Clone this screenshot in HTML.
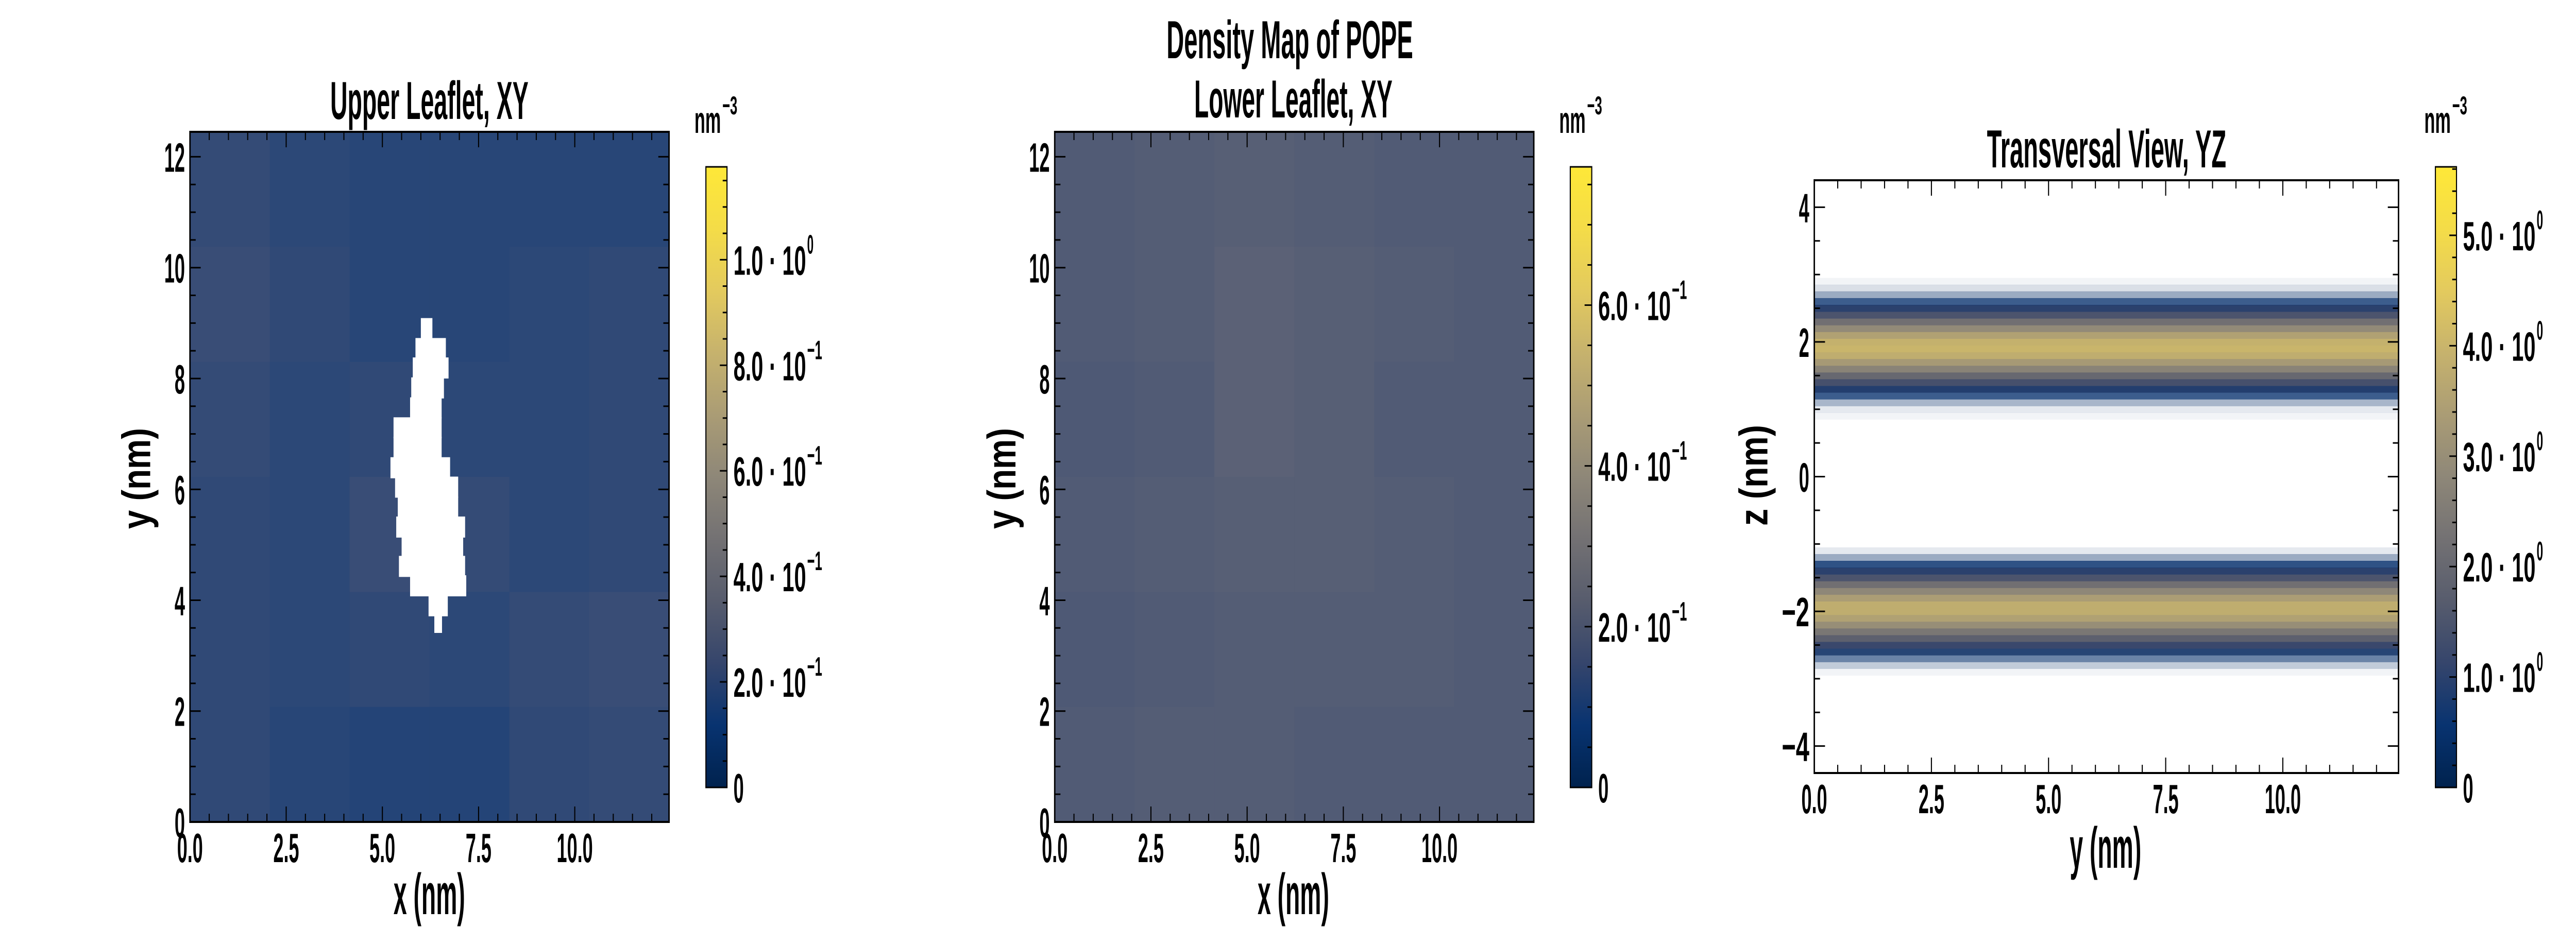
<!DOCTYPE html>
<html><head><meta charset="utf-8"><meta name="viewport" content="width=7200, initial-scale=1">
<title>Density Map of POPE</title>
<style>
html,body{margin:0;padding:0;background:#fff;width:100%;height:100%;overflow:hidden;}
svg{display:block;position:fixed;left:0;top:0;width:100vw;height:100vh;}
text{font-family:"Liberation Sans Narrow","Liberation Sans",sans-serif;font-weight:bold;fill:#000;}
</style></head>
<body>
<svg id="fig" xmlns="http://www.w3.org/2000/svg" viewBox="0 0 7200 1800" preserveAspectRatio="none">
<defs id="defs"></defs>
<rect x="0" y="0" width="7200" height="1800" fill="#fff"/>
<g id="root"></g>
</svg>
<script>
// ---------------- data ----------------
// Upper leaflet coarse density grid (normalized to colorbar max), rows top->bottom
const upperGrid = [
  [0.17,0.15,0.14,0.14,0.14,0.14],
  [0.18,0.16,0.14,0.14,0.15,0.16],
  [0.17,0.15,0.16,0.15,0.15,0.16],
  [0.16,0.15,0.18,0.17,0.15,0.16],
  [0.16,0.15,0.16,0.15,0.17,0.18],
  [0.16,0.14,0.13,0.13,0.16,0.17]
];
// Lower leaflet coarse density grid
const lowerGrid = [
  [0.25,0.26,0.27,0.26,0.25,0.25],
  [0.25,0.26,0.28,0.27,0.26,0.25],
  [0.24,0.25,0.28,0.27,0.25,0.25],
  [0.25,0.26,0.27,0.27,0.26,0.25],
  [0.24,0.25,0.26,0.26,0.26,0.25],
  [0.25,0.26,0.26,0.25,0.25,0.25]
];
// Empty hole in upper leaflet: per y row (nm), x extent (nm)
const holeY  = [8.9, 8.54, 8.19, 7.83, 7.47, 7.11, 6.76, 6.39, 6.04, 5.68, 5.32, 4.96, 4.61, 4.26, 3.9, 3.6];
const holeX0 = [6.0, 5.86, 5.79, 5.75, 5.72, 5.29, 5.29, 5.21, 5.33, 5.40, 5.36, 5.50, 5.43, 5.72, 6.2, 6.35];
const holeX1 = [6.3, 6.65, 6.72, 6.60, 6.54, 6.54, 6.54, 6.76, 6.97, 6.97, 7.15, 7.10, 7.15, 7.18, 6.7, 6.55];
// Transversal (YZ) profile: z centers (nm), density (nm^-3), occupancy fraction
const bandZ   = [-2.9,-2.8,-2.7,-2.6,-2.5,-2.4,-2.3,-2.2,-2.1,-2.0,-1.9,-1.8,-1.7,-1.6,-1.5,-1.4,-1.3,-1.2,-1.1, 0.9,1.0,1.1,1.2,1.3,1.4,1.5,1.6,1.7,1.8,1.9,2.0,2.1,2.2,2.3,2.4,2.5,2.6,2.7,2.8,2.9];
const bandVal = [0.3,0.4,0.5,0.8,1.2,1.8,2.4,3.0,3.5,3.8,3.8,3.4,2.8,2.2,1.5,1.0,0.6,0.4,0.3, 0.3,0.3,0.4,0.6,0.9,1.4,2.0,2.7,3.3,3.8,4.0,3.9,3.5,2.9,2.2,1.5,1.0,0.6,0.4,0.3,0.3];
const bandOcc = [0.05,0.25,0.6,0.95,1,1,1,1,1,1,1,1,1,1,1,1,0.85,0.4,0.1, 0.05,0.1,0.35,0.8,1,1,1,1,1,1,1,1,1,1,1,1,1,0.8,0.4,0.15,0.05];
// Axis ticks
const xyXTicks = [0, 2.5, 5, 7.5, 10];
const xyXLabels = ["0.0","2.5","5.0","7.5","10.0"];
const xyYTicks = [0, 2, 4, 6, 8, 10, 12];
const xyYLabels = ["0","2","4","6","8","10","12"];
const zTicks = [-4, -2, 0, 2, 4];
const zLabels = ["\u22124","\u22122","0","2","4"];
// Colorbars
const cb1Ticks = [0, 0.2, 0.4, 0.6, 0.8, 1.0];
const cb1Labels = ["0","2.0 \u00b7 10","4.0 \u00b7 10","6.0 \u00b7 10","8.0 \u00b7 10","1.0 \u00b7 10"];
const cb1Exp = ["","\u22121","\u22121","\u22121","\u22121","0"];
const cb2Ticks = [0, 0.2, 0.4, 0.6];
const cb2Labels = ["0","2.0 \u00b7 10","4.0 \u00b7 10","6.0 \u00b7 10"];
const cb2Exp = ["","\u22121","\u22121","\u22121"];
const cb3Ticks = [0, 1, 2, 3, 4, 5];
const cb3Labels = ["0","1.0 \u00b7 10","2.0 \u00b7 10","3.0 \u00b7 10","4.0 \u00b7 10","5.0 \u00b7 10"];
const cb3Exp = ["","0","0","0","0","0"];

// ---------------- helpers ----------------
const NS = "http://www.w3.org/2000/svg";
const root = document.getElementById("root");
const defs = document.getElementById("defs");
const cmapStops = [[0,"#00224e"],[0.1,"#083370"],[0.2,"#35456c"],[0.3,"#575c6d"],[0.4,"#737173"],[0.5,"#8e8778"],[0.6,"#aa9c75"],[0.7,"#c6b26d"],[0.8,"#e3ca5e"],[0.9,"#f4dc48"],[1,"#fee838"]];
function hex(h){return [parseInt(h.substr(1,2),16),parseInt(h.substr(3,2),16),parseInt(h.substr(5,2),16)];}
function cmap(t, white){
  t=Math.max(0,Math.min(1,t));
  let i=0; while(i<cmapStops.length-2 && t>cmapStops[i+1][0]) i++;
  const a=cmapStops[i], b=cmapStops[i+1];
  const f=(t-a[0])/(b[0]-a[0]);
  const ca=hex(a[1]), cb=hex(b[1]);
  let c=ca.map((v,k)=>v+(cb[k]-v)*f);
  if(white){c=c.map(v=>v+(255-v)*white);}
  return "rgb("+c.map(v=>Math.round(v)).join(",")+")";
}
function mk(tag, attrs, parent){
  const e=document.createElementNS(NS,tag);
  for(const k in attrs) e.setAttribute(k, attrs[k]);
  (parent||root).appendChild(e);
  return e;
}
function textW(s, scale){
  let w=0;
  for(const ch of s){
    if(/[0-9]/.test(ch)) w+=29;
    else if(ch===".") w+=14;
    else if(ch===" ") w+=14;
    else if(ch==="\u00b7") w+=45;
    else if(ch==="\u2212") w+=48;
    else w+=29;
  }
  return w*(scale||1);
}
function label(x,y,str,anchor,size,len,name,rot){
  const t=mk("text",{x:x,y:y,"font-size":size,"text-anchor":anchor||"start"});
  if(len){t.setAttribute("textLength",len);t.setAttribute("lengthAdjust","spacingAndGlyphs");}
  if(rot) t.setAttribute("transform","rotate("+rot+" "+x+" "+y+")");
  t.textContent=str;
  
  
  return t;
}
function line(x1,y1,x2,y2,w,name){
  const l=mk("line",{x1:x1,y1:y1,x2:x2,y2:y2,stroke:"#000","stroke-width":w});
  
  
  return l;
}
function scale(d0,d1,r0,r1){return v=>r0+(v-d0)/(d1-d0)*(r1-r0);}

// ---------------- panels ----------------
function xyPanel(px0,px1,py0,py1,grid,white,vmax,hole,pname){
  const sx=scale(0,12.45,px0,px1), sy=scale(0,12.45,py1,py0);
  const n=grid.length, step=12.45/n;
  for(let r=0;r<n;r++){
    for(let c=0;c<grid[r].length;c++){
      const x0=sx(c*step), x1=sx((c+1)*step);
      const yTop=sy(12.45-r*step), yBot=sy(12.45-(r+1)*step);
      const rc=mk("rect",{x:x0,y:yTop,width:x1-x0+0.5,height:yBot-yTop+0.5,fill:cmap(grid[r][c],white)});
      
      
    }
  }
  if(hole){
    for(let i=0;i<holeY.length;i++){
      const hy=holeY[i];
      const h=mk("rect",{x:sx(holeX0[i]),y:sy(hy+0.19),width:sx(holeX1[i])-sx(holeX0[i]),height:sy(hy-0.19)-sy(hy+0.19),fill:"#fff"});
      
      
    }
  }
  frameAndTicks(px0,px1,py0,py1,sx,sy,xyXTicks,xyXLabels,0.5,12.45,xyYTicks,xyYLabels,0.5,0,12.45,pname);
}
function frameAndTicks(px0,px1,py0,py1,sx,sy,xt,xl,xminor,xmax,yt,yl,yminor,ymin,ymax,pname){
  const fr=mk("rect",{x:px0,y:py0,width:px1-px0,height:py1-py0,fill:"none",stroke:"#000","stroke-width":4});
  
  
  const M=30, m=16;
  for(let v=0; v<=xmax+1e-6; v+=xminor){
    const major=xt.some(t=>Math.abs(t-v)<1e-6);
    const L=major?M:m, X=sx(v);
    line(X,py1,X,py1-L,3,pname+'-x-tick');
    line(X,py0,X,py0+L,3,pname+'-x-tick-top');
  }
  xt.forEach((v,i)=>label(sx(v),py1+78,xl[i],"middle",80,textW(xl[i]),pname+'-x-tick-label'));
  for(let v=Math.ceil(ymin/yminor)*yminor; v<=ymax+1e-6; v+=yminor){
    const major=yt.some(t=>Math.abs(t-v)<1e-6);
    const L=major?M:m, Y=sy(v);
    line(px0,Y,px0+L,Y,3,pname+'-y-tick');
    line(px1,Y,px1-L,Y,3,pname+'-y-tick-right');
  }
  yt.forEach((v,i)=>label(px0-14,sy(v)+29,yl[i],"end",80,textW(yl[i]),pname+'-y-tick-label'));
}
function colorbar(cx0,cx1,cy0,cy1,vmax,ticks,labels,exps,minor,pname,gid){
  const g=mk("linearGradient",{id:gid,x1:0,y1:1,x2:0,y2:0},defs);
  cmapStops.forEach(s=>mk("stop",{offset:s[0],"stop-color":s[1]},g));
  const r=mk("rect",{x:cx0,y:cy0,width:cx1-cx0,height:cy1-cy0,fill:"url(#"+gid+")",stroke:"#000","stroke-width":3});
  
  
  const s=scale(0,vmax,cy1,cy0);
  for(let v=0; v<=vmax+1e-6; v+=minor){
    const major=ticks.some(t=>Math.abs(t-v)<1e-6);
    line(cx1,s(v),cx1-(major?20:12),s(v),3,pname+'-colorbar-tick');
  }
  ticks.forEach((v,i)=>{
    const w=textW(labels[i]);
    label(cx1+18,s(v)+29,labels[i],"start",80,w,pname+'-colorbar-tick-label');
    if(exps[i]) label(cx1+18+w+3,s(v)-12,exps[i],"start",52,exps[i].length>1?42:18,pname+'-colorbar-tick-exponent');
  });
}

// Panel 1: upper leaflet
xyPanel(531,1870,256,1596,upperGrid,0.06,1.176,true,'upper-leaflet');
colorbar(1973,2032,324,1529,1.176,cb1Ticks,cb1Labels,cb1Exp,0.05,'upper-leaflet','cg1');
// Panel 2: lower leaflet
xyPanel(2948,4287,256,1596,lowerGrid,0.06,0.772,false,'lower-leaflet');
colorbar(4389,4449,324,1529,0.772,cb2Ticks,cb2Labels,cb2Exp,0.05,'lower-leaflet','cg2');

// Panel 3: transversal
(function(){
  const px0=5071,px1=6704,py0=350,py1=1501;
  const sx=scale(0,12.47,px0,px1), sz=scale(-4.4,4.4,py1,py0);
  for(let i=0;i<bandZ.length;i++){
    const z=bandZ[i];
    const r=mk("rect",{x:px0,y:sz(z+0.05),width:px1-px0,height:sz(z-0.05)-sz(z+0.05)+0.5,fill:cmap(bandVal[i]/5.62,0),"fill-opacity":bandOcc[i]});
    
    
  }
  frameAndTicks(px0,px1,py0,py1,sx,sz,xyXTicks,xyXLabels,0.5,12.47,zTicks,zLabels,0.5,-4.4,4.4,'transversal');
})();
colorbar(6807,6866,324,1529,5.62,cb3Ticks,cb3Labels,cb3Exp,0.2,'transversal','cg3');

// Titles and axis labels
label(3605,113,"Density Map of POPE","middle",104,689,'figure-title');
label(1200,231,"Upper Leaflet, XY","middle",104,554,'upper-leaflet-title');
label(3615,228,"Lower Leaflet, XY","middle",104,554,'lower-leaflet-title');
label(5888,325,"Transversal View, YZ","middle",104,669,'transversal-title');
label(1200,1775,"x (nm)","middle",112,200,'upper-x-axis-title');
label(3615,1775,"x (nm)","middle",112,200,'lower-x-axis-title');
label(5885,1685,"y (nm)","middle",112,200,'transversal-x-axis-title');
label(420,929,"y (nm)","middle",112,196,'upper-y-axis-title',-90);
label(2838,929,"y (nm)","middle",112,196,'lower-y-axis-title',-90);
label(4940,923,"z (nm)","middle",112,196,'transversal-y-axis-title',-90);
[[1941,'upper-leaflet'],[4358,'lower-leaflet'],[6776,'transversal']].forEach(p=>{
  label(p[0],258,"nm","start",72,74,p[1]+'-colorbar-unit');
  label(p[0]+78,222,"\u22123","start",50,42,p[1]+'-colorbar-unit-exponent');
});
</script>
</body></html>
